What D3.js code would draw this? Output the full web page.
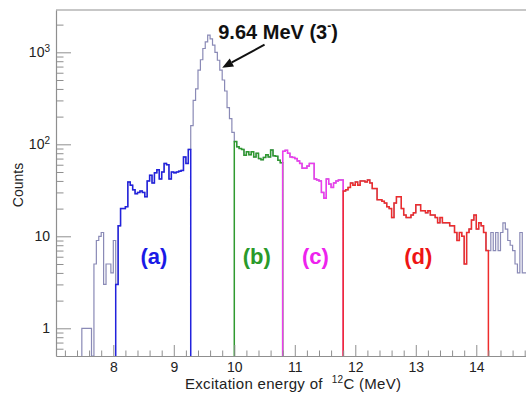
<!DOCTYPE html>
<html>
<head>
<meta charset="utf-8">
<script src="https://cdn.jsdelivr.net/npm/d3@7"></script>
<style>
body { margin: 0; background: #fff; }
svg { display: block; font-family: "Liberation Sans", Arial, Helvetica, sans-serif; }
</style>
</head>
<body>
<div class="chart"></div>
<script>
// histogram binning (MeV)
const binLow = 7.48;
const binWidth = 0.04;

// counts per bin, split by region
const countsLow  = [1, 1, 1, 1, 0, 5, 9, 10, 11, 3, 5, 5, 4, 9];
const countsA    = [3, 13, 20, 20, 21, 39, 36, 32, 29, 30, 31, 30, 27, 40, 46, 38, 49, 53, 42, 50,
                    62, 60, 42, 50, 49, 50, 51, 52, 73, 62, 88];
const countsPeak = [160, 300, 400, 640, 830, 1100, 1300, 1540, 1400, 1200, 1000, 820, 640, 500,
                    380, 250, 190, 135];
const countsB    = [107, 94, 90, 88, 76, 83, 77, 83, 73, 80, 70, 68, 72, 77, 73, 87, 75, 74, 67, 63];
const countsC    = [84, 86, 80, 73, 72, 70, 66, 62, 55, 55, 58, 62, 62, 42, 41, 40, 30, 26, 42, 37,
                    34, 38, 40, 41, 41];
const countsD    = [31, 32, 34, 38, 36, 39, 36, 40, 40, 39, 41, 38, 33, 33, 25, 25, 24, 23, 21, 20,
                    16, 23, 27, 27, 20, 17, 16, 16, 17, 18, 22, 22, 19, 19, 18, 19, 17, 17, 16, 14,
                    16, 14, 14, 14, 13, 13, 11, 9, 11, 10, 5, 11, 12, 15, 17, 12, 14, 13, 11, 7];
const countsHigh = [7, 11, 7, 11, 7, 11, 14, 12, 9, 8, 7, 5, 4, 11, 4, 4];

const regionNames = ["(a)", "(b)", "(c)", "(d)"];
const regionEdges = [[8.04, 9.28], [10.00, 10.80], [10.80, 11.80], [11.80, 14.20]];

const xMajorTicks = [8, 9, 10, 11, 12, 13, 14];
const yMajorTicks = [1, 10, 100, 1000];
const yTickBase = ["1", "10", "10", "10"];
const yTickExp = ["", "", "2", "3"];

const counts = [].concat(countsLow, countsA, countsPeak, countsB, countsC, countsD, countsHigh);

// ---- layout / style
const width = 526, height = 401;
const margin = {top: 10, left: 56, bottom: 45};
const regionColors = ["#2222dd", "#2f9a2f", "#ee3cee", "#ee2c2c"];
const labelColors = ["#1a1ae6", "#2a9a2a", "#ee22ee", "#ee1515"];
const labelAt = [8.67, 10.37, 11.34, 13.04];
const axisGray = "#8f8f8f";

const svg = d3.select(".chart").append("svg")
  .attr("width", width).attr("height", height);

const x = d3.scaleLinear().domain([7.053, 15]).range([margin.left, margin.left + 7.947 * 60.5]);
const y = d3.scaleLog().domain([0.5, 2884]).range([height - margin.bottom, margin.top]);
const yMin = y.domain()[0];

const edge = i => binLow + i * binWidth;
const idx = e => Math.round((e - binLow) / binWidth);

function stepPoints(i0, i1) {
  const pts = [[edge(i0), yMin]];
  for (let i = i0; i < i1; i++) {
    const v = Math.max(counts[i], yMin);
    pts.push([edge(i), v], [edge(i + 1), v]);
  }
  pts.push([edge(i1), yMin]);
  return pts;
}
const line = d3.line().x(d => x(d[0])).y(d => y(d[1]));

// frame top line
svg.append("line")
  .attr("x1", margin.left).attr("x2", width + 20)
  .attr("y1", margin.top).attr("y2", margin.top)
  .attr("stroke", axisGray).attr("stroke-width", 1.2);

// full histogram
svg.append("path")
  .attr("d", line(stepPoints(0, counts.length)))
  .attr("fill", "none").attr("stroke", "#8a8ab6").attr("stroke-width", 1.2);

// region histograms
regionEdges.forEach((r, k) => {
  svg.append("path")
    .attr("d", line(stepPoints(idx(r[0]), idx(r[1]))))
    .attr("fill", "none").attr("stroke", regionColors[k]).attr("stroke-width", 1.5);
});

// x axis
const xAxis = svg.append("g")
  .attr("transform", `translate(0,${height - margin.bottom})`)
  .call(d3.axisBottom(x).tickValues(xMajorTicks).tickSize(-11).tickSizeOuter(0).tickPadding(6)
    .tickFormat(d3.format("d")));
xAxis.select(".domain").attr("stroke", axisGray).attr("stroke-width", 1.2);
xAxis.selectAll(".tick line").attr("stroke", axisGray);
xAxis.selectAll(".tick text").attr("font-size", 14).attr("fill", "#222");

const xMinor = d3.range(36, 76).map(d => d / 5).filter(d => Math.abs(d - Math.round(d)) > 1e-9);
svg.append("g")
  .attr("transform", `translate(0,${height - margin.bottom})`)
  .call(d3.axisBottom(x).tickValues(xMinor).tickSize(-5.5).tickSizeOuter(0).tickFormat(""))
  .call(g => g.select(".domain").remove())
  .selectAll(".tick line").attr("stroke", axisGray);

// y axis
const yAxis = svg.append("g")
  .attr("transform", `translate(${margin.left},0)`)
  .call(d3.axisLeft(y).tickValues(yMajorTicks).tickSize(-15).tickSizeOuter(0).tickPadding(6)
    .tickFormat(""));
yAxis.select(".domain").attr("stroke", axisGray).attr("stroke-width", 1.2);
yAxis.selectAll(".tick line").attr("stroke", axisGray);
yAxis.selectAll(".tick text").each(function (d, i) {
  const t = d3.select(this).attr("font-size", 14).attr("fill", "#222");
  t.append("tspan").text(yTickBase[i]);
  if (yTickExp[i]) {
    t.append("tspan").attr("font-size", 10).attr("dy", "-0.55em").text(yTickExp[i]);
  }
});

const yMinor = [];
[-1, 0, 1, 2, 3].forEach(p => d3.range(2, 10).forEach(m => {
  const v = m * Math.pow(10, p);
  if (v > yMin && v < y.domain()[1]) yMinor.push(v);
}));
svg.append("g")
  .attr("transform", `translate(${margin.left},0)`)
  .call(d3.axisLeft(y).tickValues(yMinor).tickSize(-7.5).tickSizeOuter(0).tickFormat(""))
  .call(g => g.select(".domain").remove())
  .selectAll(".tick line").attr("stroke", axisGray);

// axis titles
const xt = svg.append("text")
  .attr("x", 185).attr("y", 389)
  .attr("font-size", 15).attr("fill", "#222")
  .attr("letter-spacing", 0.3)
  .style("white-space", "pre");
xt.append("tspan").text("Excitation energy of  ");
xt.append("tspan").attr("font-size", 10).attr("dy", -6).text("12");
xt.append("tspan").attr("dy", 6).text("C (MeV)");

svg.append("text")
  .attr("transform", "translate(23,185) rotate(-90)")
  .attr("text-anchor", "middle")
  .attr("font-size", 14).attr("fill", "#222")
  .text("Counts");

// region labels
regionNames.forEach((name, k) => {
  svg.append("text")
    .attr("x", x(labelAt[k])).attr("y", y(5))
    .attr("text-anchor", "middle")
    .attr("font-size", 22).attr("font-weight", "bold")
    .attr("fill", labelColors[k])
    .text(name);
});

// peak annotation
const tip = [x(9.80), y(680)];
const tail = [x(10.50), y(1210)];
const dx = tip[0] - tail[0], dy = tip[1] - tail[1];
const len = Math.hypot(dx, dy), ux = dx / len, uy = dy / len;
const headL = 11, headW = 4.5;
const base = [tip[0] - ux * headL, tip[1] - uy * headL];
svg.append("line")
  .attr("x1", tail[0]).attr("y1", tail[1]).attr("x2", base[0]).attr("y2", base[1])
  .attr("stroke", "#111").attr("stroke-width", 2);
svg.append("polygon")
  .attr("points", [tip, [base[0] - uy * headW, base[1] + ux * headW],
                        [base[0] + uy * headW, base[1] - ux * headW]].map(p => p.join(",")).join(" "))
  .attr("fill", "#111");

const pt = svg.append("text")
  .attr("x", x(9.735)).attr("y", y(1400))
  .attr("font-size", 20).attr("font-weight", "bold").attr("fill", "#111");
pt.append("tspan").text("9.64 MeV (3");
pt.append("tspan").attr("font-size", 12).attr("dy", -9).text("-");
pt.append("tspan").attr("dy", 9).text(")");
</script>
</body>
</html>
